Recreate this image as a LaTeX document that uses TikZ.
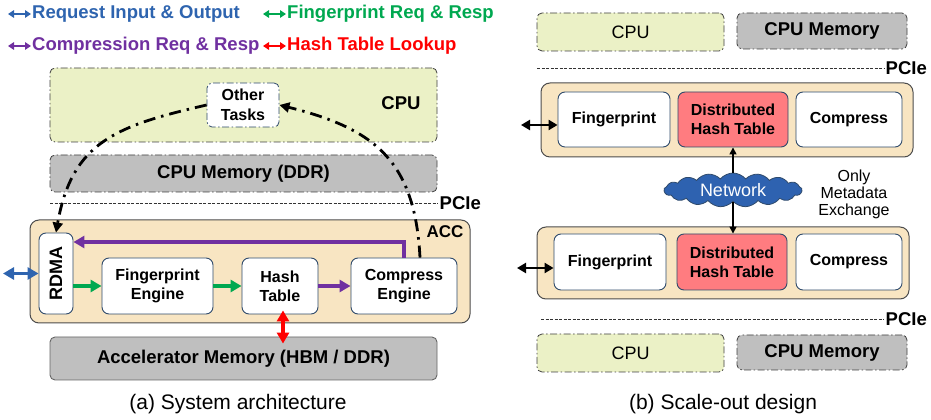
\documentclass[tikz,border=0pt]{standalone}
\usepackage{fontspec}
\setmainfont{Liberation Sans}
\usetikzlibrary{arrows.meta, shapes.symbols, calc}
\definecolor{cpugreen}{HTML}{EBF1C6}
\definecolor{memgray}{HTML}{BFBFBF}
\definecolor{acctan}{HTML}{F8E5C2}
\definecolor{boxblue}{HTML}{2F4A6B}
\definecolor{dhtred}{HTML}{FF7C80}
\definecolor{reqblue}{HTML}{2E64AF}
\definecolor{fpgreen}{HTML}{00A850}
\definecolor{cmpurple}{HTML}{7030A0}
\definecolor{netblue}{HTML}{2E62B0}

\begin{document}
\begin{tikzpicture}[
  x=1pt, y=1pt,
  lgd/.style={font=\fontsize{18.5}{20}\selectfont\bfseries, inner sep=1pt, anchor=west},
  lgdarrow/.style={line width=2.6pt, {Triangle[length=6pt,width=7.5pt]}-{Triangle[length=6pt,width=7.5pt]}},
  hostbox/.style={draw=black!75, line width=0.8pt, dash pattern=on 7pt off 2.5pt on 1.5pt off 2.5pt, rounded corners=5pt, inner sep=0pt},
  cpubox/.style={hostbox, fill=cpugreen},
  membox/.style={hostbox, fill=memgray},
  accbox/.style={draw=black!70, line width=1pt, fill=acctan, rounded corners=9pt},
  unit/.style={draw=boxblue, line width=0.9pt, fill=white, rounded corners=7pt, inner sep=0pt, align=center, font=\fontsize{16}{19}\selectfont\bfseries},
  big/.style={font=\fontsize{18.5}{20}\selectfont\bfseries},
  pcie/.style={draw=black!80, line width=0.8pt, dash pattern=on 3pt off 1.5pt},
  flow/.style={line width=3.6pt, -{Triangle[length=11pt,width=12pt]}},
  dflow/.style={line width=3.6pt, {Triangle[length=11pt,width=12pt]}-{Triangle[length=11pt,width=12pt]}},
  dblk/.style={line width=2.8pt, {Triangle[length=9pt,width=10pt]}-{Triangle[length=9pt,width=10pt]}},
  meta/.style={line width=1.5pt, -{Triangle[length=7pt,width=7pt]}},
  ctrl/.style={line width=2.8pt, dash pattern=on 12pt off 6pt on 2.5pt off 6pt, -{Triangle[length=10pt,width=10pt]}},
  caption/.style={font=\fontsize{21}{24}\selectfont}
]
  \useasboundingbox (0,0) rectangle (931,420);

  % Legend.
  \coordinate (lreqa) at (8,406);
  \coordinate (lfpa) at (263,406);
  \coordinate (lcma) at (8,374);
  \coordinate (lhta) at (263,374);
  \node[lgd, text=reqblue] (lreq) at (31,406) {Request Input \& Output};
  \node[lgd, text=fpgreen] (lfp) at (286,406) {Fingerprint Req \& Resp};
  \node[lgd, text=cmpurple] (lcm) at (31,374) {Compression Req \& Resp};
  \node[lgd, text=red] (lht) at (286,374) {Hash Table Lookup};
  \draw[lgdarrow, reqblue] (lreqa) -- (lreq.west);
  \draw[lgdarrow, fpgreen] (lfpa) -- (lfp.west);
  \draw[lgdarrow, cmpurple] (lcma) -- (lcm.west);
  \draw[lgdarrow, red] (lhta) -- (lht.west);

  % (a) Host side.
  \node[cpubox, minimum width=387, minimum height=74] (cpu) at (243.5,315) {};
  \node[big] (cpulbl) at (401,317) {CPU};
  \node[unit, hostbox, draw=boxblue, fill=white, font=\fontsize{16}{20}\selectfont\bfseries,
        minimum width=72, minimum height=44] (othr) at (243,315) {Other\\Tasks};
  \node[membox, big, minimum width=387, minimum height=37] (cpumem) at (243.5,246.5) {CPU Memory (DDR)};
  \coordinate (pciaa) at (50,217);
  \node[big, anchor=west, inner sep=1.5pt] (pcia) at (438,217) {PCIe};
  \draw[pcie] (pciaa) -- (pcia.west);

  % (a) Accelerator.
  \node[accbox, minimum width=440, minimum height=103] (acc) at (250,148.5) {};
  \node[big, font=\fontsize{17}{20}\selectfont\bfseries] (acclbl) at (445,188) {ACC};
  \node[unit, font=\fontsize{18}{20}\selectfont\bfseries, minimum width=34, minimum height=81] (rdma) at (56,146.5) {\rotatebox{90}{RDMA}};
  \node[unit, minimum width=111, minimum height=56] (fpe) at (157.5,134) {Fingerprint\\Engine};
  \node[unit, minimum width=76, minimum height=56] (ht) at (280,134) {Hash\\Table};
  \node[unit, minimum width=106, minimum height=56] (ce) at (404,134) {Compress\\Engine};
  \node[big, draw=black!60, line width=0.9pt, fill=memgray, rounded corners=5pt,
        minimum width=387, minimum height=43] (accmem) at (243.5,61.5) {Accelerator Memory (HBM / DDR)};

  % (a) Data path.
  \coordinate (reqin) at (3,146.5);
  \draw[dflow, reqblue] (reqin) -- (rdma.west);
  \draw[flow, fpgreen] (rdma.east |- fpe.west) -- (fpe.west);
  \draw[flow, fpgreen] (fpe.east) -- (ht.west);
  \draw[flow, cmpurple] (ht.east) -- (ce.west);
  \draw[flow, cmpurple] (ce.north) |- ($(rdma.east)+(0,31.5)$);
  \draw[dflow, red] ($(ht.south)+(3,4)$) -- ($(ht.south |- accmem.north)+(3,-7)$);

  % (a) Control path through the host.
  \draw[ctrl] (othr.west) to[out=193, in=80, looseness=1.2] (rdma.north);
  \draw[ctrl] ($(ce.north)+(16,0)$) to[out=93, in=-14, looseness=1.2] (othr.east);

  \node[caption] (capa) at (238,16) {(a) System architecture};

  % (b) Upper node.
  \node[cpubox, font=\fontsize{18}{20}\selectfont, minimum width=187, minimum height=38] (cpub1) at (630.5,388) {CPU};
  \node[membox, big, minimum width=170, minimum height=36] (memb1) at (822,389) {CPU Memory};
  \coordinate (pciba) at (537,352);
  \node[big, anchor=west, inner sep=1.5pt] (pcib) at (884,352) {PCIe};
  \draw[pcie] (pciba) -- (pcib.west);
  \node[accbox, minimum width=372, minimum height=74] (acct) at (727,300) {};
  \node[unit, minimum width=112, minimum height=55] (fpt) at (614,300.5) {Fingerprint};
  \node[unit, fill=dhtred, minimum width=110, minimum height=55] (dhtt) at (733,300.5) {Distributed\\Hash Table};
  \node[unit, minimum width=106, minimum height=55] (cmt) at (849,300.5) {Compress};
  \coordinate (iot) at (521,295);
  \draw[dblk] (iot) -- (iot -| fpt.west);

  % (b) Network between the nodes.
  \node[cloud, cloud puffs=17, cloud puff arc=100, aspect=4.2, draw=boxblue, line width=0.8pt, fill=netblue, text=white,
        font=\fontsize{18}{20}\selectfont, inner sep=0pt, minimum width=138, minimum height=34] (net) at (733,230) {Network};
  \node[align=center, font=\fontsize{16}{17}\selectfont] (metalbl) at (854,226) {Only\\Metadata\\Exchange};

  % (b) Lower node.
  \node[accbox, minimum width=372, minimum height=72] (accb) at (723,157) {};
  \node[unit, minimum width=112, minimum height=56] (fpb) at (610,158) {Fingerprint};
  \node[unit, fill=dhtred, minimum width=110, minimum height=56] (dhtb) at (732,158) {Distributed\\Hash Table};
  \node[unit, minimum width=106, minimum height=56] (cmb) at (849,158) {Compress};
  \coordinate (iob) at (517,152);
  \draw[dblk] (iob) -- (iob -| fpb.west);
  \draw[meta] (net.north) -- (net.north |- dhtt.south);
  \draw[meta] (net.south) -- (net.south |- dhtb.north);
  \coordinate (pcibb) at (541,101);
  \node[big, anchor=west, inner sep=1.5pt] (pcic) at (884,101) {PCIe};
  \draw[pcie] (pcibb) -- (pcic.west);
  \node[cpubox, font=\fontsize{18}{20}\selectfont, minimum width=187, minimum height=38] (cpub2) at (630.5,67) {CPU};
  \node[membox, big, minimum width=170, minimum height=35] (memb2) at (822,67.5) {CPU Memory};

  \node[caption] (capb) at (723,16) {(b) Scale-out design};
\end{tikzpicture}
\end{document}
